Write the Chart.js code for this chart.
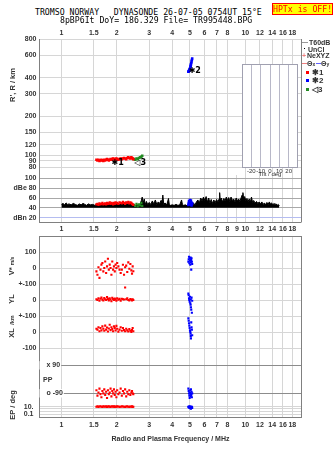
<!DOCTYPE html>
<html>
<head>
<meta charset="utf-8">
<title>Dynasonde ionogram</title>
<script src="https://cdn.jsdelivr.net/npm/chart.js@4.4.1/dist/chart.umd.min.js"></script>
<style>
  html, body { margin: 0; padding: 0; background: #fff; }
  body { position: relative; width: 335px; height: 451px; overflow: hidden;
         font-family: 'Liberation Sans', Arial, sans-serif; color: #333; }
  canvas { position: absolute; z-index: 1; }
  .t { position: absolute; white-space: pre; line-height: 1; z-index: 5; }
  .mono { font-family: 'DejaVu Sans Mono', monospace; font-size: 8.2px; color: #000; }
  .s { font-size: 7px; font-weight: bold; }
  .vt { position: absolute; white-space: nowrap; line-height: 1; font-size: 7.5px; font-weight: bold;
        transform: translate(-50%, -50%) rotate(-90deg); z-index: 5; }
  .sq { position: absolute; width: 3px; height: 3px; z-index: 5; }
  .hl { position: absolute; height: 1px; z-index: 5; }
</style>
</head>
<body>
<div class="t mono" style="left:35px;top:8px">TROMSO NORWAY   DYNASONDE 26-07-05 0754UT 15°E</div>
<div class="t mono" style="left:60px;top:16px">8pBP6It DoY= 186.329 File= TR995448.BPG</div>
<div class="t mono" style="left:272px;top:3px;width:61px;height:12px;box-sizing:border-box;background:#ffff00;border:1px solid #ff0000;color:#ff0000;text-align:center;line-height:10px;">HPTx is OFF!</div>

<!-- legend, right of the range panel -->
<div class="hl" style="left:302px;top:42px;width:6px;background:#999"></div>
<div class="t s" style="left:309px;top:38.5px">T60dB</div>
<div class="sq" style="left:304px;top:48px;width:1px;height:1px;background:#000"></div>
<div class="t s" style="left:308px;top:45.5px">UnCl</div>
<div class="t s" style="left:302px;top:52px;color:#f08080">+</div>
<div class="t s" style="left:307px;top:52px">NeXYZ</div>
<div class="hl" style="left:302px;top:63px;width:5px;background:#f08080"></div>
<div class="t s" style="left:307px;top:59.5px">Θ<span style="font-size:5px">x</span></div>
<div class="hl" style="left:316px;top:63px;width:5px;background:#6060ff"></div>
<div class="t s" style="left:321px;top:59.5px">Θ<span style="font-size:5px">y</span></div>
<div class="sq" style="left:306px;top:71px;background:#ff0000"></div>
<div class="t s" style="left:312px;top:68.5px;font-size:8px">✱1</div>
<div class="sq" style="left:306px;top:79px;background:#0000ff"></div>
<div class="t s" style="left:312px;top:76.5px;font-size:8px">✱2</div>
<div class="sq" style="left:306px;top:88px;background:#228b22"></div>
<div class="t s" style="left:312px;top:85.5px;font-size:8px">◁3</div>

<!-- axis titles -->
<div class="vt" style="left:13px;top:85px">R', R / km</div>
<div class="vt" style="left:12px;top:266px">V* <span style="font-size:5px">m/s</span></div>
<div class="vt" style="left:12px;top:299px">YL</div>
<div class="vt" style="left:13px;top:319.5px;font-size:5.5px">/km</div>
<div class="vt" style="left:12px;top:332.5px">XL</div>
<div class="vt" style="left:13px;top:405px">EP / deg</div>
<div class="t s" style="left:43px;top:376px">PP</div>

<script>
// axis ticks
const xTicksTop = [1, 1.5, 2, 3, 4, 5, 6, 7, 8, 10, 12, 14, 16, 18];
const xTicksMid = [1, 1.5, 2, 3, 4, 5, 6, 7, 8, 9, 10, 12, 14, 16, 18];
const rangeTicks = [80, 90, 100, 120, 150, 200, 300, 400, 600, 800];
const rangeLabels = ['80', '90', '100', '120', '150', '200', '300', '400', '600', '800'];
const ampTicks = [100, 80, 60, 40, 20];
const ampLabels = ['100', 'dBe 80', '60', '40', 'dBn 20'];
const vTicks = [100, 0, -100];
const vLabels = ['100', '0', '+-100'];
const ylTicks = [0, -100];
const ylLabels = ['0', '+-100'];
const xlTicks = [0, -100];
const xlLabels = ['0', '-100'];
const ppTicks = [90, -90];
const ppLabels = ['x 90', 'o -90'];
const epTicks = [10, 2.5, 0.5, 0.1];
const epLabels = ['10.', '', '', '0.1'];
const tiltTicks = [-20, -10, 0, 10, 20];

// echo trace 1 (red)
const redFreq = [1.55, 1.57, 1.59, 1.61, 1.63, 1.65, 1.67, 1.69, 1.71, 1.73, 1.75, 1.77, 1.79, 1.81, 1.83, 1.85, 1.87, 1.89, 1.91, 1.93,
                 1.95, 1.97, 1.99, 2.01, 2.04, 2.07, 2.10, 2.13, 2.16, 2.19, 2.22, 2.25, 2.28, 2.31, 2.34, 2.37, 2.40, 2.42, 2.44, 2.46];
const redRange = [92, 91, 92, 90, 91, 92, 91, 90, 92, 91, 92, 93, 92, 91, 92, 93, 92, 93, 94, 93,
                  92, 93, 94, 93, 92, 93, 94, 93, 94, 95, 94, 93, 95, 96, 95, 94, 96, 95, 94, 93];
const redAmp = [47, 48, 46, 49, 47, 48, 50, 47, 48, 49, 47, 50, 48, 49, 51, 48, 50, 49, 47, 50,
                48, 51, 49, 50, 48, 51, 50, 49, 52, 50, 48, 51, 50, 52, 49, 51, 50, 48, 47, 46];
const redVstar = [-21, -42, 5, -62, -10, 21, 31, -21, 0, 41, -31, 10, 58, -10, 21, 0, -42, 41, -10, 10,
                  -21, 21, 0, 31, 10, -10, -31, -10, 20, -42, 5, 15, -25, 35, -5, 25, -15, -35, 10, -20];
const redYL = [5, 0, 10, -5, 8, 15, 2, -3, 12, 5, 0, 18, 7, -2, 10, 3, -8, 14, 6, 0,
               9, 4, -5, 11, 2, 7, -4, 8, 5, 3, 78, 5, 10, 0, -3, 6, 2, -2, 4, 0];
const redXL = [20, 15, 30, 5, 25, 10, 35, 20, 8, 40, 15, 28, 3, 22, 45, 12, 30, 18, 5, 35,
               25, 10, 38, 20, 2, 15, 30, 8, 25, 12, 5, 20, 10, 3, 18, 8, 0, 12, 25, 5];
const redPP = [-70, -105, -85, -60, -95, -115, -75, -90, -65, -100, -80, -120, -70, -95, -85, -60, -110, -75, -90, -65,
               -100, -80, -115, -70, -95, -85, -60, -105, -75, -90, -65, -110, -80, -95, -70, -100, -85, -75, -90, -95];
const redEP = [10, 12, 9, 11, 13, 10, 9, 12, 11, 10, 13, 9, 11, 12, 10, 9, 11, 13, 10, 12,
               9, 11, 10, 12, 11, 9, 10, 12, 11, 10, 9, 11, 12, 10, 9, 11, 10, 12, 9, 10];

// echo trace 2 (blue)
const blueFreq = [4.90, 4.92, 4.94, 4.96, 4.98, 5.00, 5.02, 5.04, 5.05, 5.06, 5.08, 5.10, 5.12, 5.14];
const blueRange = [445, 448, 452, 458, 465, 472, 480, 490, 498, 508, 520, 535, 550, 565];
const blueAmp = [46, 50, 54, 48, 52, 56, 49, 53, 47, 55, 51, 45, 50, 48];
const blueVstar = [40, 55, 70, 30, 60, 45, 20, 65, 35, 50, -10, 60, 40, 25];
const blueYL = [40, 30, 10, 0, -10, 20, -20, -30, 5, -45, -60, 15, -80, -5];
const blueXL = [85, 70, 55, 40, 25, 10, 0, -10, -25, -40, 60, 30, 15, -20];
const bluePP = [-60, -75, -90, -105, -120, -85, -70, -95, -110, -65, -100, -80, -115, -90];
const blueEP = [10, 8, 6, 12, 5, 9, 4, 11, 7, 3, 8, 6, 10, 5];

// echo trace 3 (green)
const greenFreq = [2.48, 2.52, 2.56, 2.60, 2.64, 2.68, 2.72, 2.75];
const greenRange = [93, 92, 94, 93, 95, 96, 97, 99];
const greenAmp = [46, 44, 48, 43, 47, 45, 50, 44];

// trace labels in the range panel
const markerFreq = [2.02, 5.31, 2.68];
const markerRange = [87, 451, 87];
const markerText = ['✱1', '✱2', '◁3'];

// received amplitude (black trace)
const ampFreq = [1.00, 1.02, 1.04, 1.06, 1.08, 1.10, 1.13, 1.16, 1.19, 1.22, 1.25, 1.28, 1.31, 1.34, 1.37, 1.40, 1.44, 1.48, 1.52, 1.56,
  1.60, 1.65, 1.70, 1.75, 1.80, 1.85, 1.90, 1.95, 2.00, 2.06, 2.12, 2.18, 2.24, 2.30, 2.36, 2.42,
  2.48, 2.54, 2.60, 2.66, 2.72, 2.75, 2.78, 2.82, 2.86, 2.90, 2.95, 3.00,
  3.06, 3.12, 3.18, 3.24, 3.30, 3.36, 3.42, 3.48, 3.52, 3.56, 3.60, 3.66, 3.74, 3.82, 3.86, 3.92,
  4.00, 4.10, 4.20, 4.30, 4.40, 4.50, 4.55, 4.62, 4.72, 4.82, 4.92,
  5.02, 5.12, 5.22, 5.32, 5.42, 5.52, 5.62, 5.72, 5.82, 5.92, 6.02,
  6.12, 6.22, 6.32, 6.42, 6.52, 6.62, 6.74, 6.86, 6.98, 7.10,
  7.20, 7.25, 7.30, 7.40, 7.52, 7.64, 7.76, 7.88, 8.00, 8.12,
  8.24, 8.36, 8.50, 8.64, 8.78, 8.92, 9.06, 9.20, 9.34,
  9.48, 9.60, 9.70, 9.80, 9.92, 10.05, 10.2, 10.35,
  10.5, 10.65, 10.8, 10.95, 11.1, 11.3, 11.5, 11.7, 11.9,
  12.1, 12.3, 12.5, 12.7, 12.9, 13.1, 13.3, 13.5,
  13.7, 13.9, 14.1, 14.3, 14.5, 14.7, 14.9, 15.1, 15.3];
const ampLevel = [47, 49, 46, 50, 47, 48, 46, 49, 47, 45, 48, 46, 49, 47, 45, 48, 46, 47, 45, 48,
  47, 48, 46, 49, 47, 48, 46, 49, 48, 47, 49, 48, 50, 48, 49, 47,
  45, 44, 46, 44, 55, 62, 50, 58, 47, 53, 46, 51,
  47, 54, 48, 56, 47, 52, 49, 55, 48, 66, 47, 50, 46, 59, 47, 45,
  46, 45, 47, 45, 46, 56, 47, 45, 46, 44, 46,
  48, 47, 50, 46, 52, 56, 50, 60, 54, 62, 55,
  63, 52, 60, 50, 57, 49, 56, 51, 57, 52,
  58, 71, 56, 60, 52, 59, 54, 62, 55, 61,
  53, 62, 55, 58, 52, 60, 54, 58, 53,
  60, 66, 71, 58, 63, 55, 59, 53,
  58, 52, 62, 51, 55, 50, 53, 49, 52,
  48, 52, 47, 50, 46, 51, 47, 52,
  48, 50, 46, 49, 47, 48, 45, 47, 44];

const PAGE_W = 335;
const PLOT_LEFT = 39.5;
const PLOT_RIGHT = 301.5;
const TXT = '#333';
const GRID = '#d6d6d6';
const FRAME = '#808080';
const RED = '#ff0000', BLUE = '#0000ff', GREEN = '#228b22';

function axisFont(size, weight) {
  return { family: "'Liberation Sans', Arial, sans-serif", size: size || 7, weight: weight || 'bold' };
}

function mount(left, top, width, height) {
  const c = document.createElement('canvas');
  c.width = width; c.height = height;
  c.style.left = left + 'px'; c.style.top = top + 'px';
  c.style.width = width + 'px'; c.style.height = height + 'px';
  document.body.appendChild(c);
  return c.getContext('2d');
}

function freqAxis(ticks, o) {
  o = o || {};
  return {
    type: 'logarithmic', position: o.position || 'bottom', min: 0.76, max: 20.2,
    afterBuildTicks: s => { s.ticks = ticks.map(v => ({ value: v })); },
    afterFit: s => { s.height = o.height || 0; s.paddingLeft = 0; s.paddingRight = 0; },
    ticks: { display: !!o.labels, autoSkip: false, maxRotation: 0, minRotation: 0,
             padding: o.padding || 3, font: axisFont(), color: TXT, callback: v => String(v) },
    grid: { color: GRID, drawTicks: false },
    border: { display: !!o.border, color: FRAME },
    title: o.title ? { display: true, text: o.title, font: axisFont(), color: TXT, padding: 0 } : { display: false }
  };
}

function valueAxis(type, min, max, ticks, labels, extra) {
  extra = extra || {};
  return {
    type, min, max, position: 'left',
    afterBuildTicks: s => { s.ticks = ticks.map(v => ({ value: v })); },
    afterFit: s => { s.width = PLOT_LEFT; s.paddingTop = 0; s.paddingBottom = 0; },
    ticks: Object.assign({ autoSkip: false, padding: 3, font: axisFont(), color: TXT,
                           callback: (v, i) => labels[i] }, extra.ticks || {}),
    grid: Object.assign({ color: GRID, drawTicks: false }, extra.grid || {}),
    border: { display: true, color: FRAME }
  };
}

function dots(xs, ys, color, r) {
  return { data: xs.map((x, i) => ({ x, y: ys[i] })), pointStyle: 'rect', pointRadius: r || 1.5,
           pointHoverRadius: 0, backgroundColor: color, borderWidth: 0, showLine: false, order: 0 };
}

// frame lines the axes do not draw
function frame(sides) {
  return {
    id: 'frame',
    afterDraw(chart) {
      const { ctx, chartArea: a } = chart;
      const l = Math.floor(a.left) + 0.5, r = Math.floor(a.right) + 0.5;
      const t = Math.floor(a.top) + 0.5, b = Math.floor(a.bottom) + 0.5;
      ctx.save();
      ctx.strokeStyle = FRAME; ctx.lineWidth = 1; ctx.beginPath();
      if (sides.includes('r')) { ctx.moveTo(r, a.top); ctx.lineTo(r, a.bottom); }
      if (sides.includes('t')) { ctx.moveTo(l, t); ctx.lineTo(r, t); }
      if (sides.includes('b')) { ctx.moveTo(l, b); ctx.lineTo(r, b); }
      ctx.stroke();
      ctx.restore();
    }
  };
}

function panel(canvasTop, height, pad, datasets, x, y, sides, extra) {
  const ctx = mount(0, canvasTop, PAGE_W, height);
  return new Chart(ctx, {
    type: 'scatter',
    data: { datasets },
    options: {
      responsive: false, animation: false, devicePixelRatio: 1, events: [],
      layout: { padding: { left: 0, right: PAGE_W - PLOT_RIGHT, top: pad[0], bottom: pad[1] } },
      plugins: { legend: { display: false }, tooltip: { enabled: false } },
      scales: { x, y }
    },
    plugins: [frame(sides)].concat(extra || [])
  });
}

const markerLabels = {
  id: 'markerLabels',
  afterDatasetsDraw(chart) {
    const { ctx, scales: { x, y } } = chart;
    ctx.save();
    ctx.font = "bold 8px 'DejaVu Sans', sans-serif";
    ctx.fillStyle = '#000'; ctx.textAlign = 'center'; ctx.textBaseline = 'middle';
    markerText.forEach((t, i) => ctx.fillText(t, x.getPixelForValue(markerFreq[i]), y.getPixelForValue(markerRange[i])));
    ctx.restore();
  }
};

// virtual range panel: plot 39..175
panel(26, 154, [0, 5], [
    dots(redFreq, redRange, RED, 1.8),
    dots(greenFreq, greenRange, GREEN, 1.8),
    dots(blueFreq, blueRange, BLUE, 1.8)
  ],
  freqAxis(xTicksTop, { position: 'top', labels: true, height: 13, padding: 2 }),
  valueAxis('logarithmic', 70, 800, rangeTicks, rangeLabels),
  'r', [markerLabels]);

// amplitude panel: plot 175..222
panel(170, 66, [5, 0], [
    dots(redFreq, redAmp, RED, 1.6),
    dots(greenFreq, greenAmp, GREEN, 1.6),
    dots(blueFreq, blueAmp, BLUE, 1.8),
    { data: ampFreq.map((x, i) => ({ x, y: ampLevel[i] })), showLine: true, borderColor: '#000',
      borderWidth: 1, backgroundColor: '#000', fill: { value: 40 }, pointRadius: 0, pointHoverRadius: 0, order: 1 }
  ],
  freqAxis(xTicksMid, { labels: true, height: 14, padding: 3 }),
  valueAxis('linear', 11, 107, ampTicks, ampLabels,
    { grid: { color: c => (c.tick && c.tick.value === 20) ? '#b4bcf0' : '#a8a8a8' } }),
  'rb');

// V*: plot 236..284
panel(231, 58, [5, 5], [dots(redFreq, redVstar, RED), dots(blueFreq, blueVstar, BLUE)],
  freqAxis(xTicksTop), valueAxis('linear', -100, 200, vTicks, vLabels), 'rt');

// YL: plot 284..316
panel(279, 42, [5, 5], [dots(redFreq, redYL, RED), dots(blueFreq, blueYL, BLUE)],
  freqAxis(xTicksTop), valueAxis('linear', -100, 100, ylTicks, ylLabels), 'r');

// XL: plot 316..356
panel(311, 50, [5, 5], [dots(redFreq, redXL, RED), dots(blueFreq, blueXL, BLUE)],
  freqAxis(xTicksTop), valueAxis('linear', -150, 100, xlTicks, xlLabels), 'r');

// PP: plot 356..400
panel(351, 54, [5, 5], [dots(redFreq, redPP, RED), dots(blueFreq, bluePP, BLUE)],
  freqAxis(xTicksTop),
  valueAxis('linear', -133, 150, ppTicks, ppLabels, {
    ticks: { mirror: true, padding: 7, z: 1, showLabelBackdrop: true, backdropColor: '#fff',
             backdropPadding: { left: 7, right: 1, top: 0, bottom: 0 } },
    grid: { color: '#8c8c8c' }
  }), 'r');

// EP: plot 400..417 with the frequency axis below
panel(395, 48, [5, 0], [dots(redFreq, redEP, RED), dots(blueFreq, blueEP, BLUE)],
  freqAxis(xTicksTop, { labels: true, height: 26, padding: 4, border: true, title: 'Radio and Plasma Frequency / MHz' }),
  valueAxis('logarithmic', 0.0195, 579, epTicks, epLabels, { ticks: { padding: 6 } }), 'r');

// tilt inset inside the range panel
new Chart(mount(242, 64, 56, 114), {
  type: 'scatter',
  data: { datasets: [] },
  options: {
    responsive: false, animation: false, devicePixelRatio: 1, events: [],
    layout: { padding: 0 },
    plugins: { legend: { display: false }, tooltip: { enabled: false } },
    scales: {
      x: { type: 'linear', min: -30, max: 30,
           afterBuildTicks: s => { s.ticks = tiltTicks.map(v => ({ value: v })); },
           afterFit: s => { s.height = 10; s.paddingLeft = 0; s.paddingRight = 0; },
           ticks: { autoSkip: false, maxRotation: 0, padding: 0, font: axisFont(6, 'normal'), color: TXT },
           grid: { color: '#b8b8c8', drawTicks: false },
           border: { display: false },
           title: { display: true, text: 'Tilt / deg', font: axisFont(6, 'normal'), color: TXT, padding: 0 } },
      y: { display: false, min: 0, max: 1 }
    }
  },
  plugins: [{
    id: 'insetBox',
    beforeDraw(chart) {
      const { ctx, chartArea: a } = chart;
      ctx.save(); ctx.fillStyle = '#fff';
      ctx.fillRect(a.left, a.top, a.right - a.left, a.bottom - a.top);
      ctx.restore();
    },
    afterDraw(chart) {
      const { ctx, chartArea: a } = chart;
      ctx.save(); ctx.strokeStyle = '#a0a0b0'; ctx.lineWidth = 1;
      ctx.strokeRect(a.left + 0.5, a.top + 0.5, a.right - a.left - 1, a.bottom - a.top - 1);
      ctx.restore();
    }
  }]
});
</script>
</body>
</html>
